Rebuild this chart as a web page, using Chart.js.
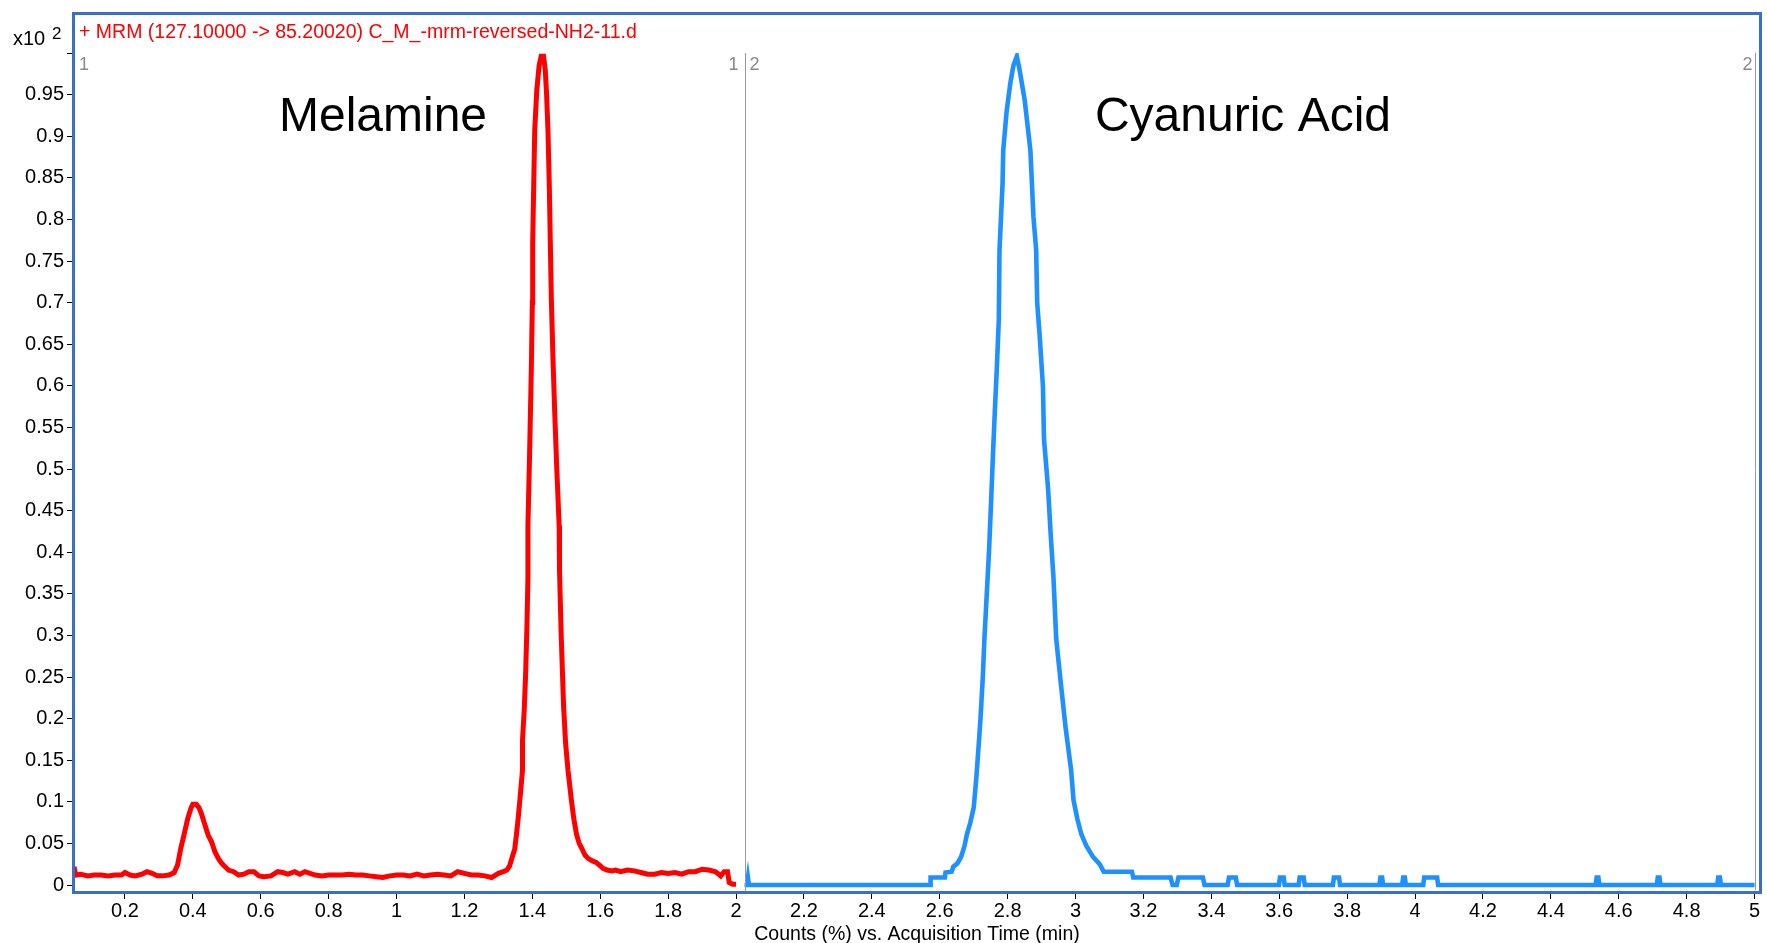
<!DOCTYPE html>
<html>
<head>
<meta charset="utf-8">
<title>MRM chromatogram</title>
<script src="https://cdn.jsdelivr.net/npm/chart.js@4/dist/chart.umd.min.js"></script>
<style>
  body { margin: 0; background: #fff; }
  #wrap { width: 1767px; height: 943px; }
</style>
</head>
<body>
<div id="wrap"><canvas id="chart1" width="1767" height="943"></canvas></div>
<script>
// ===== data =====

// Melamine trace (red), time in min, counts in x10^2 %
const melTime = [0.05, 0.055, 0.07, 0.09, 0.11, 0.13, 0.15, 0.17, 0.19, 0.20, 0.215, 0.23, 0.25, 0.265, 0.28, 0.295, 0.31, 0.33,
  0.345, 0.355, 0.365, 0.375, 0.385, 0.395, 0.40, 0.41, 0.418, 0.425, 0.435, 0.445, 0.455, 0.465, 0.475, 0.485, 0.495, 0.505,
  0.52, 0.535, 0.55, 0.565, 0.58, 0.595, 0.61, 0.63, 0.65, 0.665, 0.68, 0.70, 0.715, 0.73, 0.745, 0.76, 0.78, 0.80, 0.82, 0.84,
  0.86, 0.88, 0.90, 0.92, 0.94, 0.96, 0.98, 1.00, 1.02, 1.04, 1.06, 1.08, 1.10, 1.12, 1.14, 1.16, 1.18, 1.20, 1.22, 1.24, 1.26,
  1.28, 1.30, 1.314, 1.325, 1.333, 1.341, 1.348, 1.353, 1.358, 1.365, 1.371, 1.371, 1.376, 1.38, 1.384, 1.387, 1.387, 1.392,
  1.397, 1.400, 1.401, 1.404, 1.407, 1.413, 1.42, 1.426, 1.433, 1.438, 1.442, 1.446, 1.45, 1.453, 1.456, 1.461, 1.466, 1.472,
  1.479, 1.480, 1.485, 1.492, 1.498, 1.505, 1.515, 1.522, 1.53, 1.538, 1.547, 1.555, 1.564, 1.577, 1.589, 1.60, 1.608, 1.62,
  1.635, 1.645, 1.66, 1.68, 1.70, 1.72, 1.74, 1.76, 1.78, 1.80, 1.82, 1.84, 1.86, 1.88, 1.90, 1.92, 1.94, 1.955, 1.965, 1.975,
  1.98, 1.99, 2.00];
const melCounts = [0.022, 0.012, 0.013, 0.011, 0.012, 0.012, 0.011, 0.012, 0.012, 0.015, 0.012, 0.011, 0.013, 0.016, 0.014, 0.011, 0.011, 0.012,
  0.015, 0.024, 0.045, 0.062, 0.080, 0.093, 0.097, 0.097, 0.093, 0.086, 0.073, 0.060, 0.052, 0.040, 0.032, 0.026, 0.022, 0.018,
  0.016, 0.012, 0.013, 0.016, 0.016, 0.011, 0.010, 0.011, 0.016, 0.015, 0.013, 0.016, 0.013, 0.016, 0.014, 0.012, 0.011, 0.012, 0.012, 0.012,
  0.013, 0.012, 0.012, 0.011, 0.010, 0.009, 0.011, 0.012, 0.012, 0.011, 0.013, 0.011, 0.012, 0.013, 0.012, 0.011, 0.016, 0.014, 0.012, 0.012, 0.011,
  0.009, 0.014, 0.016, 0.018, 0.023, 0.034, 0.043, 0.060, 0.079, 0.11, 0.138, 0.174, 0.21, 0.251, 0.31, 0.369, 0.432, 0.52,
  0.62, 0.70, 0.77, 0.84, 0.907, 0.955, 0.985, 0.996, 0.996, 0.98, 0.95, 0.907, 0.84, 0.77, 0.703, 0.63, 0.567, 0.50,
  0.432, 0.378, 0.30, 0.215, 0.17, 0.138, 0.102, 0.08, 0.061, 0.05, 0.043, 0.036, 0.032, 0.029, 0.027, 0.023, 0.020, 0.018,
  0.017, 0.018, 0.016, 0.018, 0.017, 0.015, 0.013, 0.013, 0.015, 0.014, 0.015, 0.013, 0.016, 0.016, 0.019, 0.018, 0.016, 0.011, 0.016, 0.016,
  0.003, 0.001, 0.001];

// Cyanuric acid trace (blue)
const cyaTime = [2.025, 2.032, 2.035, 2.038, 2.572, 2.573, 2.615, 2.617, 2.635, 2.64, 2.652, 2.663, 2.673, 2.68, 2.69, 2.70,
  2.708, 2.715, 2.72, 2.727, 2.732, 2.736, 2.745, 2.752, 2.757, 2.762, 2.768, 2.774, 2.776, 2.785, 2.787, 2.797, 2.808, 2.817,
  2.827, 2.835, 2.85, 2.867, 2.876, 2.884, 2.887, 2.894, 2.904, 2.907, 2.919, 2.927, 2.935, 2.943, 2.958, 2.971, 2.987, 2.994,
  3.005, 3.017, 3.032, 3.051, 3.071, 3.083, 3.166, 3.17, 3.28, 3.286, 3.298, 3.303, 3.375, 3.38,
  3.448, 3.452, 3.472, 3.476, 3.599, 3.602, 3.613, 3.616, 3.657, 3.66, 3.672, 3.675, 3.758, 3.761, 3.776, 3.779,
  3.895, 3.898, 3.903, 3.906, 3.962, 3.965, 3.97, 3.973, 4.024, 4.027, 4.065, 4.068, 4.532, 4.535, 4.54, 4.543,
  4.712, 4.715, 4.72, 4.723, 4.89, 4.893, 4.898, 4.901, 5.0];
const cyaCounts = [0, 0, 0.009, 0, 0, 0.009, 0.009, 0.015, 0.016, 0.022, 0.026, 0.034, 0.047, 0.061, 0.075, 0.093,
  0.13, 0.17, 0.20, 0.251, 0.30, 0.33, 0.40, 0.468, 0.52, 0.567, 0.62, 0.68, 0.763, 0.843, 0.883, 0.93, 0.964, 0.985,
  0.996, 0.98, 0.944, 0.883, 0.803, 0.763, 0.70, 0.662, 0.599, 0.536, 0.477, 0.42, 0.369, 0.296, 0.237, 0.188, 0.138, 0.102,
  0.08, 0.061, 0.047, 0.034, 0.025, 0.016, 0.016, 0.009, 0.009, 0, 0, 0.009, 0.009, 0,
  0, 0.009, 0.009, 0, 0, 0.009, 0.009, 0, 0, 0.009, 0.009, 0, 0, 0.009, 0.009, 0,
  0, 0.009, 0.009, 0, 0, 0.009, 0.009, 0, 0, 0.009, 0.009, 0, 0, 0.009, 0.009, 0,
  0, 0.009, 0.009, 0, 0, 0.009, 0.009, 0, 0];

// tick labels
const xTicks = [0.2, 0.4, 0.6, 0.8, 1, 1.2, 1.4, 1.6, 1.8, 2, 2.2, 2.4, 2.6, 2.8, 3, 3.2, 3.4, 3.6, 3.8, 4, 4.2, 4.4, 4.6, 4.8, 5];
const yTicks = [0, 0.05, 0.1, 0.15, 0.2, 0.25, 0.3, 0.35, 0.4, 0.45, 0.5, 0.55, 0.6, 0.65, 0.7, 0.75, 0.8, 0.85, 0.9, 0.95, 1];

// texts
const titleText = '+ MRM (127.10000 -> 85.20020) C_M_-mrm-reversed-NH2-11.d';
const peakNames = ['Melamine', 'Cyanuric Acid'];
const axisTitle = 'Counts (%) vs. Acquisition Time (min)';
const segmentSplit = 2.025;

const font = '"Liberation Sans", Arial, sans-serif';

// build point lists
let melData = [];
for (let i = 0; i < melTime.length; i++) {
  melData.push({ x: melTime[i], y: melCounts[i] });
}
let cyaData = [];
for (let i = 0; i < cyaTime.length; i++) {
  cyaData.push({ x: cyaTime[i], y: cyaCounts[i] });
}

// extra drawing: frame, segment lines, labels
const decorations = {
  id: 'decorations',
  afterDraw(chart) {
    const ctx = chart.ctx;
    const area = chart.chartArea;
    const xs = chart.scales.x;
    ctx.save();

    // segment separators
    ctx.strokeStyle = '#9a9a9a';
    ctx.lineWidth = 1;
    let sx = Math.round(xs.getPixelForValue(segmentSplit)) + 0.5;
    ctx.beginPath();
    ctx.moveTo(sx, area.top);
    ctx.lineTo(sx, area.bottom);
    let ex = Math.round(xs.getPixelForValue(5)) + 0.5;
    ctx.moveTo(ex, area.top);
    ctx.lineTo(ex, area.bottom - 3);
    ctx.stroke();

    // segment numbers
    ctx.fillStyle = '#8a8a8a';
    ctx.font = '18px ' + font;
    ctx.textBaseline = 'middle';
    ctx.textAlign = 'left';
    ctx.fillText('1', area.left + 6, area.top + 12);
    ctx.fillText('2', sx + 4, area.top + 12);
    ctx.textAlign = 'right';
    ctx.fillText('1', sx - 7, area.top + 12);
    ctx.fillText('2', ex - 3, area.top + 12);

    // compound names
    ctx.fillStyle = '#000';
    ctx.font = '48px ' + font;
    ctx.textAlign = 'center';
    ctx.fillText(peakNames[0], 383, 118);
    ctx.fillText(peakNames[1], 1243, 118);

    // title
    ctx.fillStyle = '#ff0000';
    ctx.font = '19.5px ' + font;
    ctx.textAlign = 'left';
    ctx.fillText(titleText, 79, 33);

    // y multiplier
    ctx.fillStyle = '#000';
    ctx.font = '20px ' + font;
    ctx.fillText('x10', 13, 39);
    ctx.font = '17px ' + font;
    ctx.fillText('2', 52, 34);

    // x axis title
    ctx.font = '19.5px ' + font;
    ctx.textAlign = 'center';
    ctx.fillText(axisTitle, 917, 935);

    // blue frame
    ctx.strokeStyle = '#3a6fc9';
    ctx.lineWidth = 3;
    ctx.strokeRect(area.left + 0.5, 13.5, area.right - area.left - 1, area.bottom - 13 - 1);
    ctx.restore();
  }
};

const ctx = document.getElementById('chart1').getContext('2d');
const chart = new Chart(ctx, {
  type: 'line',
  data: {
    datasets: [
      {
        label: peakNames[0],
        data: melData,
        borderColor: '#ff0000',
        borderWidth: 5,
        pointRadius: 0,
        tension: 0
      },
      {
        label: peakNames[1],
        data: cyaData,
        borderColor: '#1e90ff',
        borderWidth: 4.6,
        pointRadius: 0,
        tension: 0
      }
    ]
  },
  options: {
    responsive: false,
    animation: false,
    events: [],
    layout: { padding: { top: 53, right: 6, left: 0, bottom: 0 } },
    plugins: {
      legend: { display: false },
      tooltip: { enabled: false }
    },
    scales: {
      x: {
        type: 'linear',
        min: 0.047,
        max: 5.019,
        afterFit(axis) { axis.height = 50; },
        afterBuildTicks(axis) { axis.ticks = xTicks.map(v => ({ value: v })); },
        ticks: {
          color: '#000',
          font: { family: font, size: 20 },
          padding: 0,
          maxRotation: 0,
          autoSkip: false,
          callback: v => String(v)
        },
        grid: { drawOnChartArea: false, color: '#000', tickLength: 6 },
        border: { color: '#000' }
      },
      y: {
        type: 'linear',
        min: -0.0096,
        max: 1.0,
        afterFit(axis) { axis.width = 73; },
        afterBuildTicks(axis) { axis.ticks = yTicks.map(v => ({ value: v })); },
        ticks: {
          color: '#000',
          font: { family: font, size: 20 },
          padding: 3,
          autoSkip: false,
          callback: v => (v === 1 ? '' : String(v))
        },
        grid: { drawOnChartArea: false, color: '#000', tickLength: 6 },
        border: { color: '#000' }
      }
    }
  },
  plugins: [decorations]
});
</script>
</body>
</html>
